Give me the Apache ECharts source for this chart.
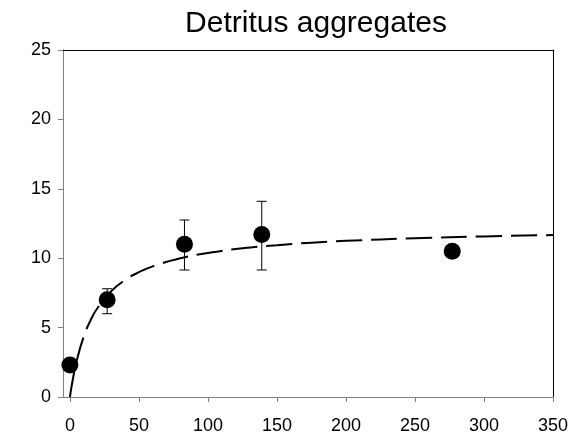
<!DOCTYPE html>
<html><head><meta charset="utf-8">
<script src="https://cdn.jsdelivr.net/npm/echarts@6/dist/echarts.min.js"></script>
<style>html,body{margin:0;padding:0;background:#fff}#c{width:586px;height:435px}</style>
</head><body><div id="c"></div>
<script>
const titleText = 'Detritus aggregates';
const xValues = [0, 27, 83, 139, 277];
const yValues = [2.3, 7.0, 11.0, 11.7, 10.5];
const errLow = [null, 6.0, 9.15, 9.15, null];
const errHigh = [null, 7.8, 12.75, 14.1, null];
const fitX = [0, 2, 5, 10, 15, 20, 30, 40, 50, 60, 80, 100, 125, 150, 175, 200, 250, 300, 350];
const fitY = [0, 1.21, 2.64, 4.34, 5.53, 6.41, 7.63, 8.43, 8.99, 9.41, 9.99, 10.38, 10.71, 10.94, 11.12, 11.25, 11.44, 11.57, 11.67];
const xTicks = [0, 50, 100, 150, 200, 250, 300, 350];
const yTicks = [0, 5, 10, 15, 20, 25];

const font = '"Liberation Sans", Arial, sans-serif';
const chart = echarts.init(document.getElementById('c'), null, {renderer: 'canvas'});

const points = xValues.map((x, i) => [x, yValues[i]]);
const fit = fitX.map((x, i) => [x, fitY[i]]);
const errData = [];
xValues.forEach((x, i) => { if (errLow[i] != null) errData.push([x, errLow[i], errHigh[i]]); });

chart.setOption({
  animation: false,
  backgroundColor: '#fff',
  title: {
    text: titleText, left: 311, top: 4, textAlign: 'center',
    textStyle: {fontFamily: font, fontSize: 30, fontWeight: 'normal', color: '#000'}
  },
  grid: {left: 63, right: 33, top: 50, bottom: 38, containLabel: false},
  xAxis: [{
    type: 'value', min: -5, max: 350, position: 'bottom',
    axisLine: {onZero: false, lineStyle: {color: '#808080', width: 1}},
    axisTick: {show: true, length: 5, customValues: xTicks, lineStyle: {color: '#808080'}},
    axisLabel: {customValues: xTicks, margin: 20, fontFamily: font, fontSize: 18, color: '#000'},
    splitLine: {show: false}
  }, {
    type: 'value', min: -5, max: 350, position: 'top',
    axisLine: {onZero: false, lineStyle: {color: '#000', width: 1}},
    axisTick: {show: false}, axisLabel: {show: false}, splitLine: {show: false}
  }],
  yAxis: [{
    type: 'value', min: 0, max: 25, interval: 5, position: 'left',
    axisLine: {show: true, onZero: false, lineStyle: {color: '#808080', width: 1}},
    axisTick: {show: true, length: 5, lineStyle: {color: '#808080'}},
    axisLabel: {margin: 12, fontFamily: font, fontSize: 18, color: '#000'},
    splitLine: {show: false}
  }, {
    type: 'value', min: 0, max: 25, interval: 5, position: 'right',
    axisLine: {show: true, onZero: false, lineStyle: {color: '#000', width: 1}},
    axisTick: {show: false}, axisLabel: {show: false}, splitLine: {show: false}
  }],
  series: [{
    type: 'line', data: fit, showSymbol: false, symbol: 'none', smooth: true,
    lineStyle: {color: '#000', width: 2, type: [26, 9]}, z: 2
  }, {
    type: 'custom', data: errData, z: 3,
    renderItem: function (params, api) {
      const x = api.value(0);
      const pLo = api.coord([x, api.value(1)]);
      const pHi = api.coord([x, api.value(2)]);
      const w = 5;
      const st = {stroke: '#000', lineWidth: 1};
      return {type: 'group', children: [
        {type: 'line', shape: {x1: pLo[0], y1: pLo[1], x2: pHi[0], y2: pHi[1]}, style: st},
        {type: 'line', shape: {x1: pLo[0] - w, y1: pLo[1], x2: pLo[0] + w, y2: pLo[1]}, style: st},
        {type: 'line', shape: {x1: pHi[0] - w, y1: pHi[1], x2: pHi[0] + w, y2: pHi[1]}, style: st}
      ]};
    }
  }, {
    type: 'scatter', data: points, symbol: 'circle', symbolSize: 17,
    itemStyle: {color: '#000', opacity: 1}, z: 4
  }]
});
</script>
</body></html>
